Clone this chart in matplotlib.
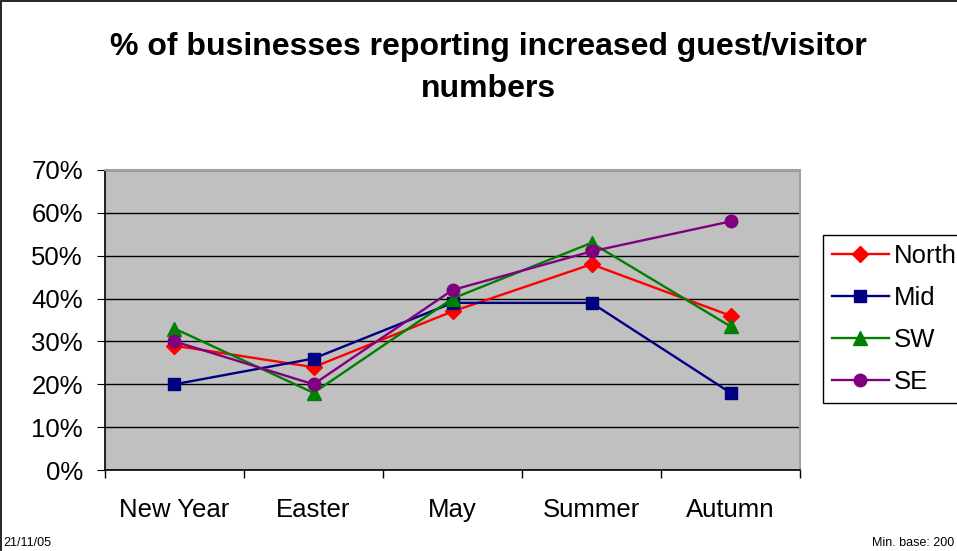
import matplotlib.pyplot as plt
from matplotlib.patches import Rectangle

# survey periods and share of businesses reporting more guests (%)
periods = ["New Year", "Easter", "May", "Summer", "Autumn"]
north = [29, 24, 37, 48, 36]
mid = [20, 26, 39, 39, 18]
sw = [33, 18, 40, 53, 33.5]
se = [30, 20, 42, 51, 58]

plt.rcParams['font.family'] = ['Liberation Sans', 'DejaVu Sans']

fig = plt.figure(figsize=(9.57, 5.51), dpi=100)
ax = fig.add_axes([0.1097, 0.147, 0.7263, 0.5445])
ax.set_facecolor('#C0C0C0')

x = list(range(len(periods)))
series = [
    (north, 'North', '#FF0000', 'D', 8.5),
    (mid, 'Mid', '#000080', 's', 9),
    (sw, 'SW', '#008000', '^', 10),
    (se, 'SE', '#800080', 'o', 9),
]
for vals, name, col, mk, ms in series:
    ax.plot(x, vals, color=col, marker=mk, markersize=ms, linewidth=1.7,
            markeredgecolor=col, label=name, zorder=3)

ax.set_ylim(0, 70)
ax.set_yticks(range(0, 71, 10))
ax.set_yticklabels([f"{v}%" for v in range(0, 71, 10)])
ax.yaxis.grid(True, color='black', linewidth=1)
ax.set_axisbelow(True)

ax.set_xlim(-0.5, 4.5)
ax.set_xticks(x)
ax.set_xticklabels(periods)
ax.set_xticks([i - 0.5 for i in range(len(periods) + 1)], minor=True)
ax.tick_params(axis='x', which='major', length=0, pad=20, labelsize=18.5)
ax.tick_params(axis='x', which='minor', length=6, direction='out', width=1)
ax.tick_params(axis='y', length=6, direction='out', labelsize=18.5, pad=10)

for side in ['left', 'bottom']:
    ax.spines[side].set_color('black')
    ax.spines[side].set_linewidth(1.2)
for side in ['top', 'right']:
    ax.spines[side].set_color('#A0A0A0')
    ax.spines[side].set_linewidth(1.5)

fig.text(0.51, 1 - 68 / 551,
         "% of businesses reporting increased guest/visitor\nnumbers",
         ha='center', va='center', fontsize=23, fontweight='bold',
         linespacing=1.55)

leg = fig.legend(loc='upper left', bbox_to_anchor=(0.86, 0.5735),
                 bbox_transform=fig.transFigure, fancybox=False,
                 edgecolor='black', framealpha=1, fontsize=18.5,
                 labelspacing=0.7, handlelength=2.2, handletextpad=0.2,
                 borderpad=0.35, borderaxespad=0)
leg.get_frame().set_linewidth(1)

fig.text(0.003, 0.004, "21/11/05", fontsize=9, ha='left', va='bottom')
fig.text(0.911, 0.004, "Min. base: 200", fontsize=9, ha='left', va='bottom')

# outer chart border, open at the bottom and right
fig.patches.append(Rectangle((0.001, -0.1), 1.2, 1.098, transform=fig.transFigure,
                             fill=False, edgecolor='black', linewidth=1.2))

fig.savefig("out.png", dpi=100)
